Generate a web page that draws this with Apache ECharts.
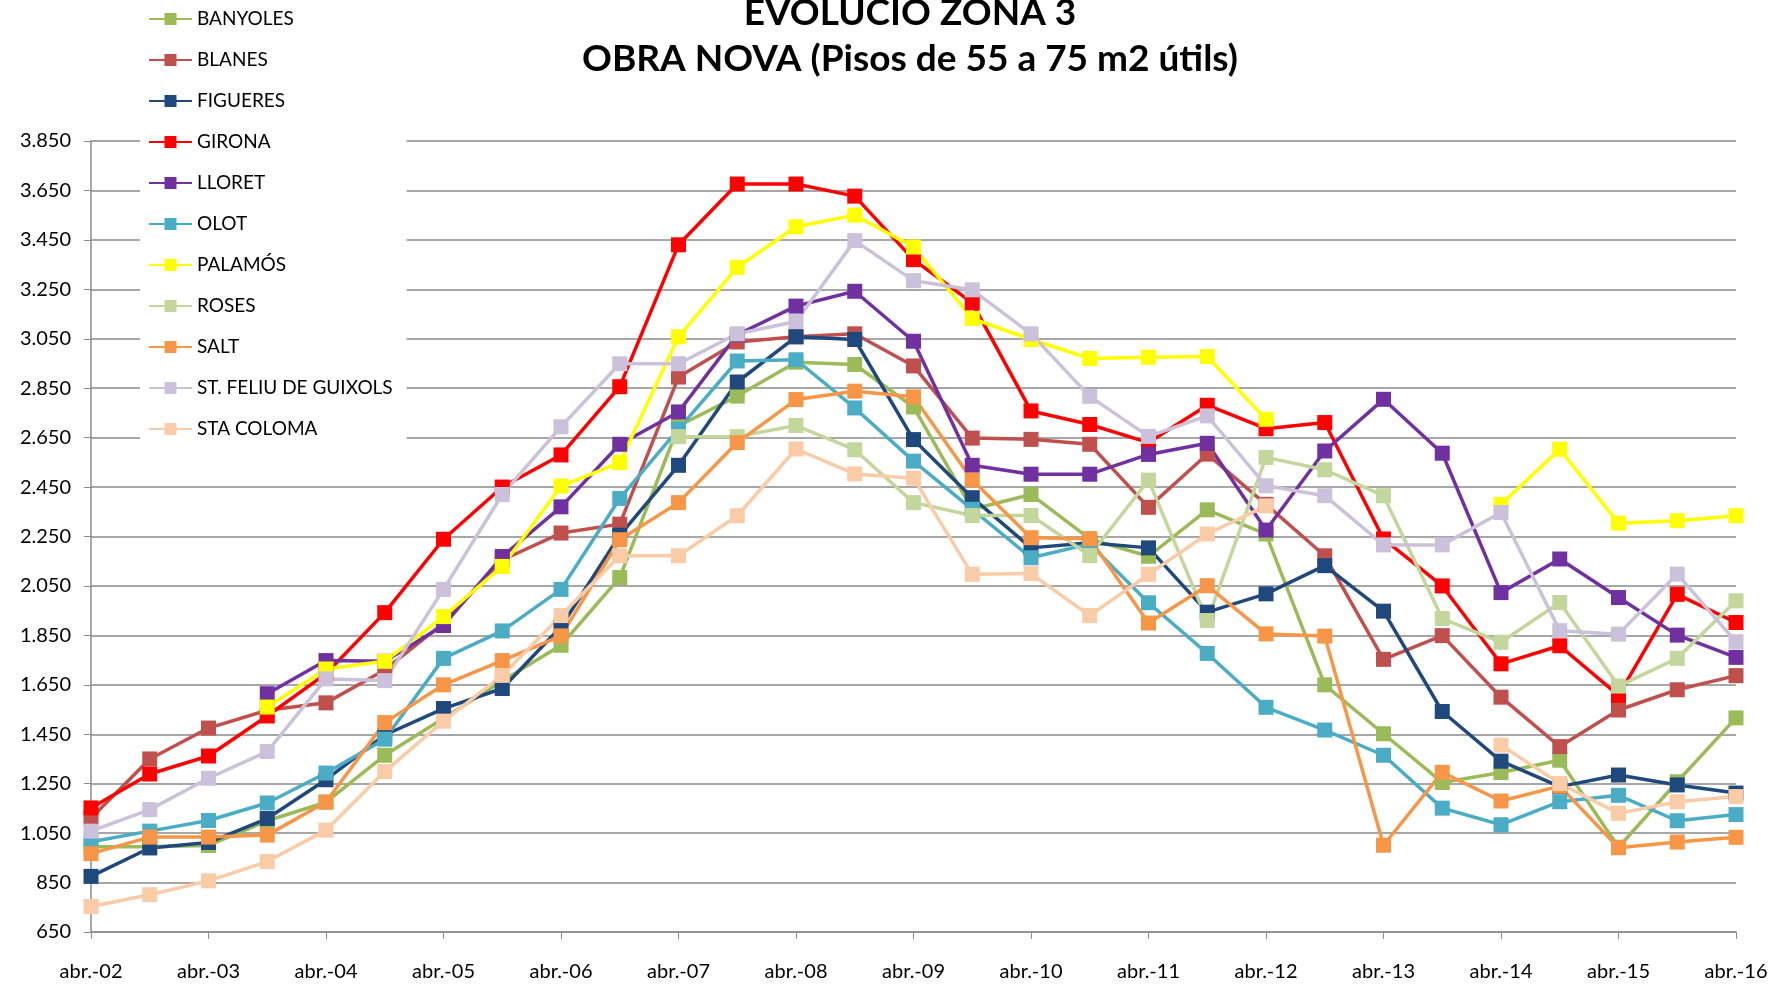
<!DOCTYPE html>
<html>
<head>
<meta charset="utf-8">
<title>Evolució zona 3 - obra nova</title>
<script src="https://cdn.jsdelivr.net/npm/echarts@6/dist/echarts.min.js"></script>
<style>
  html, body { margin: 0; padding: 0; background: #fff; }
  #chart { width: 1781px; height: 986px; }
</style>
</head>
<body>
<div id="chart"></div>
<script>
// half-year points, Apr 2002 .. Apr 2016
const categories = [
  'abr.-02', 'oct.-02', 'abr.-03', 'oct.-03', 'abr.-04', 'oct.-04', 'abr.-05', 'oct.-05',
  'abr.-06', 'oct.-06', 'abr.-07', 'oct.-07', 'abr.-08', 'oct.-08', 'abr.-09', 'oct.-09',
  'abr.-10', 'oct.-10', 'abr.-11', 'oct.-11', 'abr.-12', 'oct.-12', 'abr.-13', 'oct.-13',
  'abr.-14', 'oct.-14', 'abr.-15', 'oct.-15', 'abr.-16'
]

const yTicks = [650, 850, 1050, 1250, 1450, 1650, 1850, 2050, 2250, 2450, 2650, 2850, 3050, 3250, 3450, 3650, 3850]
const yTickLabels = ['650', '850', '1.050', '1.250', '1.450', '1.650', '1.850', '2.050', '2.250',
  '2.450', '2.650', '2.850', '3.050', '3.250', '3.450', '3.650', '3.850']

const banyoles = [995, 995, 1000, 1100, 1175, 1365, 1515, 1665, 1810, 2084, 2697, 2818, 2955, 2946, 2774,
  2360, 2420, 2240, 2170, 2358, 2260, 1650, 1452, 1255, 1295, 1345, 993, 1258, 1516]
const blanes = [1110, 1350, 1475, 1547, 1577, 1710, 1900, 2155, 2264, 2300, 2895, 3037, 3058, 3070, 2940,
  2648, 2643, 2623, 2368, 2583, 2380, 2172, 1753, 1849, 1600, 1400, 1548, 1630, 1687]
const figueres = [875, 990, 1012, 1109, 1266, 1447, 1554, 1635, 1885, 2255, 2538, 2875, 3058, 3047, 2642,
  2407, 2204, 2225, 2204, 1944, 2018, 2132, 1948, 1542, 1341, 1238, 1285, 1245, 1212]
const girona = [1152, 1289, 1362, 1524, 1695, 1942, 2239, 2450, 2580, 2856, 3430, 3676, 3676, 3627, 3370,
  3195, 2758, 2703, 2630, 2781, 2686, 2711, 2240, 2050, 1735, 1808, 1607, 2016, 1902]
const lloret = [null, null, null, 1614, 1748, 1745, 1890, 2169, 2370, 2623, 2754, 3066, 3182, 3242, 3040,
  2538, 2502, 2502, 2582, 2627, 2276, 2596, 2805, 2587, 2023, 2159, 2003, 1851, 1761]
const olot = [1015, 1058, 1101, 1172, 1293, 1430, 1757, 1868, 2036, 2404, 2684, 2960, 2965, 2770, 2555,
  2360, 2164, 2220, 1982, 1777, 1559, 1467, 1365, 1151, 1084, 1177, 1203, 1100, 1125]
const palamos = [null, null, null, 1560, 1714, 1745, 1926, 2129, 2454, 2549, 3058, 3339, 3503, 3550, 3421,
  3132, 3047, 2970, 2975, 2978, 2724, null, null, null, 2380, 2603, 2304, 2314, 2334]
const roses = [null, null, null, null, null, null, null, null, null, null, 2654, 2654, 2699, 2601, 2387,
  2335, 2335, 2173, 2478, 1910, 2570, 2520, 2415, 1918, 1822, 1983, 1645, 1757, 1990]
const salt = [967, 1034, 1034, 1042, 1176, 1497, 1650, 1748, 1848, 2237, 2387, 2630, 2804, 2838, 2815,
  2479, 2245, 2241, 1900, 2051, 1856, 1847, 1001, 1296, 1180, 1240, 991, 1014, 1033]
const stFeliu = [1058, 1145, 1272, 1380, 1674, 1667, 2036, 2420, 2694, 2949, 2949, 3070, 3120, 3447, 3285,
  3248, 3070, 2817, 2655, 2738, 2455, 2415, 2216, 2216, 2347, 1869, 1855, 2098, 1824]
const staColoma = [753, 801, 857, 935, 1062, 1299, 1503, 1688, 1930, 2172, 2172, 2334, 2604, 2503, 2486,
  2097, 2100, 1930, 2097, 2260, 2374, null, null, null, 1406, 1251, 1130, 1177, 1198]

const seriesNames = ['BANYOLES', 'BLANES', 'FIGUERES', 'GIRONA', 'LLORET', 'OLOT', 'PALAMÓS', 'ROSES',
  'SALT', 'ST. FELIU DE GUIXOLS', 'STA COLOMA']
const seriesData = [banyoles, blanes, figueres, girona, lloret, olot, palamos, roses, salt, stFeliu, staColoma]
const seriesColors = ['#9BBB59', '#C0504D', '#1F497D', '#FF0000', '#7030A0', '#4BACC6', '#FFFF00',
  '#C3D69B', '#F79646', '#CCC1DA', '#F9CBA7']

const axisGrey = '#8a8a8a'

const chart = echarts.init(document.getElementById('chart'), null, { renderer: 'canvas' })

chart.setOption({
  animation: false,
  backgroundColor: '#fff',
  textStyle: { fontFamily: 'Lato, "Open Sans", sans-serif' },
  title: {
    text: 'EVOLUCIÓ ZONA 3\nOBRA NOVA (Pisos de 55 a 75 m2 útils)',
    left: 905,
    top: -15,
    textAlign: 'center',
    textStyle: { fontSize: 37, fontWeight: 'bold', lineHeight: 46, color: '#000' },
  },
  legend: {
    orient: 'vertical',
    left: 140,
    top: 3,
    itemWidth: 43,
    itemHeight: 15,
    itemGap: 21,
    padding: [6, 14, 12, 8],
    backgroundColor: '#fff',
    textStyle: { fontSize: 19, lineHeight: 20, color: '#000' },
    data: seriesNames,
  },
  grid: { left: 91, right: 45, top: 141, bottom: 54 },
  xAxis: {
    type: 'category',
    data: categories,
    boundaryGap: false,
    axisLine: { lineStyle: { color: axisGrey, width: 1.5 } },
    axisTick: { interval: 1, length: 7, lineStyle: { color: axisGrey } },
    axisLabel: { interval: 1, color: '#000', fontSize: 20, margin: 30 },
    splitLine: { show: false },
  },
  yAxis: {
    type: 'value',
    min: 650,
    max: 3850,
    axisLine: { show: true, lineStyle: { color: axisGrey, width: 1.5 } },
    axisTick: { show: true, customValues: yTicks, length: 7, lineStyle: { color: axisGrey } },
    axisLabel: {
      customValues: yTicks,
      color: '#000',
      fontSize: 20,
      margin: 20,
      formatter: v => yTickLabels[yTicks.indexOf(v)] ?? '',
    },
    splitLine: { lineStyle: { color: axisGrey, width: 1.5 } },
  },
  series: seriesNames.map((name, i) => ({
    name,
    type: 'line',
    data: seriesData[i],
    symbol: 'rect',
    symbolSize: 15,
    lineStyle: { width: 3.5, color: seriesColors[i] },
    itemStyle: { color: seriesColors[i] },
    emphasis: { disabled: true },
  })),
})
</script>
</body>
</html>
